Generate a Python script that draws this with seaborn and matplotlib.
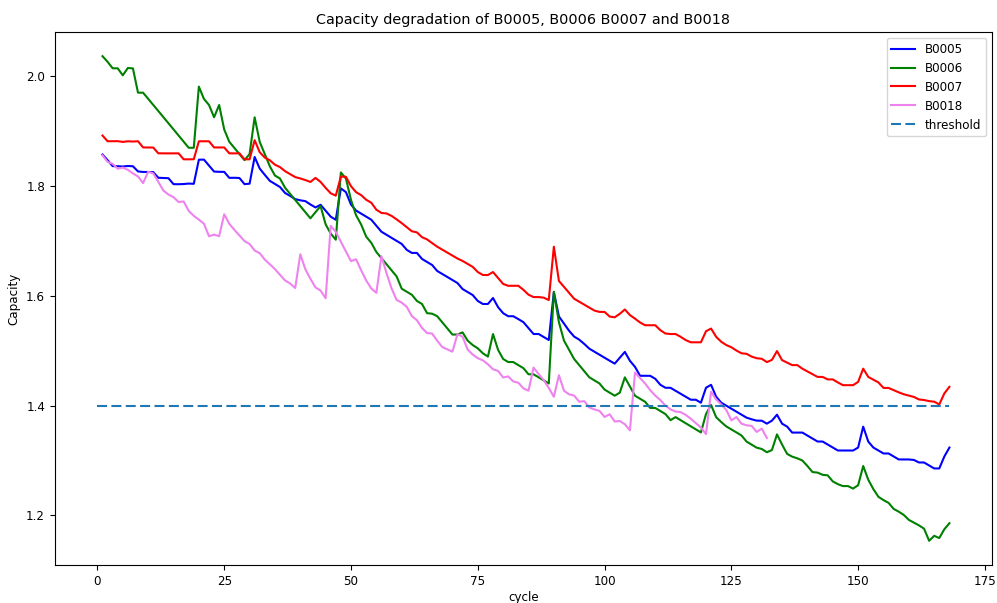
import matplotlib
matplotlib.use("Agg")
import matplotlib.pyplot as plt
import seaborn as sns
import numpy as np
import pandas as pd

# capacity per cycle
b0005 = [
    1.856487, 1.846327, 1.835349, 1.835263, 1.834646, 1.835662, 1.835146, 1.825757, 1.824774, 1.824613,
    1.824620, 1.814202, 1.813752, 1.813440, 1.802598, 1.802460, 1.802823, 1.803658, 1.803253, 1.847077,
    1.847275, 1.836272, 1.825510, 1.825044, 1.824966, 1.814041, 1.814218, 1.813795, 1.802628, 1.803441,
    1.852003, 1.830984, 1.819553, 1.808576, 1.802904, 1.797385, 1.786518, 1.781221, 1.775369, 1.773195,
    1.771733, 1.765653, 1.760229, 1.765127, 1.754272, 1.743392, 1.737828, 1.794948, 1.788065, 1.765486,
    1.754591, 1.749005, 1.743385, 1.737930, 1.726986, 1.716078, 1.710496, 1.704920, 1.699465, 1.693873,
    1.683072, 1.677521, 1.677512, 1.666628, 1.661040, 1.655547, 1.644690, 1.639288, 1.633781, 1.628267,
    1.622697, 1.611871, 1.606297, 1.600889, 1.590152, 1.584662, 1.584693, 1.595568, 1.578897, 1.567945,
    1.562382, 1.562408, 1.557152, 1.551585, 1.540658, 1.530012, 1.530075, 1.524599, 1.519160, 1.606097,
    1.562000, 1.549000, 1.536000, 1.525369, 1.519792, 1.512000, 1.503356, 1.497864, 1.492485, 1.486880,
    1.481489, 1.476186, 1.486841, 1.497541, 1.481329, 1.470339, 1.454069, 1.454049, 1.454040, 1.448567,
    1.437750, 1.432295, 1.432226, 1.426758, 1.421366, 1.415935, 1.410558, 1.410485, 1.405073, 1.432289,
    1.437666, 1.416065, 1.405149, 1.399715, 1.394267, 1.388894, 1.383396, 1.377931, 1.375000, 1.372520,
    1.372408, 1.367010, 1.372445, 1.383289, 1.367042, 1.361632, 1.350754, 1.350796, 1.350804, 1.345374,
    1.339935, 1.334529, 1.334485, 1.329067, 1.323645, 1.318221, 1.318173, 1.318170, 1.318150, 1.323576,
    1.361548, 1.334405, 1.323581, 1.318223, 1.312784, 1.312814, 1.307353, 1.301945, 1.301957, 1.301891,
    1.301000, 1.296424, 1.296381, 1.291003, 1.285550, 1.285550, 1.307340, 1.323503,
]

b0006 = [
    2.035338, 2.025140, 2.013326, 2.013285, 2.000528, 2.013899, 2.013101, 1.968970, 1.968964, 1.957927,
    1.946808, 1.935714, 1.924549, 1.913359, 1.902208, 1.891071, 1.879932, 1.868772, 1.868750, 1.980042,
    1.957675, 1.946590, 1.924265, 1.946568, 1.901979, 1.879650, 1.868455, 1.857399, 1.846231, 1.857301,
    1.924186, 1.879511, 1.857227, 1.835011, 1.818314, 1.812726, 1.796065, 1.784907, 1.773848, 1.762716,
    1.751611, 1.740481, 1.751643, 1.762735, 1.729407, 1.712699, 1.701549, 1.823916, 1.812754, 1.773850,
    1.745943, 1.729277, 1.707020, 1.695892, 1.679202, 1.668078, 1.656961, 1.645832, 1.634736, 1.612469,
    1.606895, 1.601364, 1.590192, 1.584683, 1.567968, 1.567000, 1.562445, 1.551329, 1.540182, 1.529073,
    1.529110, 1.533000, 1.518000, 1.510000, 1.504000, 1.495000, 1.489000, 1.530000, 1.501280, 1.484634,
    1.479101, 1.479059, 1.473490, 1.467919, 1.456773, 1.456826, 1.451269, 1.445678, 1.440095, 1.606915,
    1.551300, 1.518028, 1.501269, 1.484594, 1.473462, 1.462355, 1.451290, 1.445680, 1.440064, 1.429006,
    1.423429, 1.417867, 1.423403, 1.451240, 1.434543, 1.417856, 1.412305, 1.406737, 1.395626, 1.395606,
    1.390021, 1.384471, 1.373384, 1.378898, 1.373320, 1.367771, 1.362193, 1.356652, 1.351064, 1.384433,
    1.401098, 1.378877, 1.370000, 1.362000, 1.356637, 1.351100, 1.345522, 1.334421, 1.328834, 1.323301,
    1.321000, 1.315000, 1.319000, 1.347500, 1.329000, 1.312000, 1.307000, 1.304000, 1.300000, 1.290000,
    1.279000, 1.278000, 1.274000, 1.273000, 1.262000, 1.257000, 1.253500, 1.253500, 1.249000, 1.255000,
    1.290000, 1.265000, 1.248000, 1.234000, 1.228000, 1.223000, 1.212000, 1.207000, 1.201000, 1.192000,
    1.187000, 1.182000, 1.176000, 1.154000, 1.163000, 1.159000, 1.175000, 1.186000,
]

b0007 = [
    1.891052, 1.880637, 1.880663, 1.880771, 1.879451, 1.880624, 1.880101, 1.880676, 1.869371, 1.869319,
    1.869213, 1.858716, 1.858605, 1.858560, 1.858636, 1.858630, 1.847792, 1.847754, 1.847950, 1.880575,
    1.880595, 1.880602, 1.869362, 1.869432, 1.869319, 1.858657, 1.858558, 1.858673, 1.847804, 1.847752,
    1.882560, 1.860657, 1.851000, 1.846000, 1.838014, 1.833583, 1.826220, 1.820822, 1.815411, 1.813000,
    1.810000, 1.806623, 1.814000, 1.806670, 1.795782, 1.786039, 1.781651, 1.816408, 1.816054, 1.798837,
    1.788047, 1.782645, 1.774231, 1.768846, 1.756109, 1.750279, 1.749300, 1.744882, 1.738541, 1.731734,
    1.724311, 1.716898, 1.714893, 1.706176, 1.702133, 1.695361, 1.688887, 1.683500, 1.678117, 1.672724,
    1.667330, 1.662954, 1.657574, 1.652138, 1.642774, 1.637386, 1.637360, 1.642773, 1.631940, 1.621146,
    1.617755, 1.617722, 1.617777, 1.610376, 1.601592, 1.597224, 1.597205, 1.596168, 1.591845, 1.688867,
    1.626564, 1.615794, 1.604981, 1.594212, 1.588782, 1.583415, 1.578013, 1.572661, 1.570247, 1.570245,
    1.561854, 1.560475, 1.566848, 1.574654, 1.564500, 1.558000, 1.551000, 1.546000, 1.546000, 1.546000,
    1.537000, 1.531000, 1.530000, 1.530000, 1.525000, 1.519000, 1.515000, 1.515000, 1.515000, 1.535000,
    1.540000, 1.525000, 1.516000, 1.510000, 1.506000, 1.500000, 1.495000, 1.494000, 1.489000, 1.486000,
    1.485000, 1.479000, 1.483000, 1.499000, 1.482500, 1.478000, 1.473500, 1.473500, 1.467000, 1.462000,
    1.457000, 1.452000, 1.452000, 1.447500, 1.447500, 1.442000, 1.437000, 1.437000, 1.437000, 1.443000,
    1.467000, 1.452000, 1.447000, 1.442000, 1.432000, 1.432000, 1.428000, 1.424000, 1.420500, 1.418000,
    1.415600, 1.411000, 1.410000, 1.408000, 1.407000, 1.402000, 1.422000, 1.434000,
]

b0018 = [
    1.855005, 1.843196, 1.839602, 1.830674, 1.832700, 1.828729, 1.822087, 1.816633, 1.804510, 1.825146,
    1.822249, 1.806939, 1.791006, 1.783708, 1.778928, 1.770112, 1.771148, 1.753910, 1.744933, 1.738048,
    1.730793, 1.707814, 1.710855, 1.708060, 1.747829, 1.730573, 1.719548, 1.709437, 1.699063, 1.693780,
    1.681932, 1.677038, 1.665451, 1.656899, 1.648044, 1.637840, 1.627451, 1.621889, 1.613716, 1.675013,
    1.647840, 1.630510, 1.614827, 1.609106, 1.595046, 1.726680, 1.715843, 1.697860, 1.680088, 1.662573,
    1.666018, 1.645981, 1.627393, 1.612929, 1.604991, 1.671560, 1.640924, 1.612897, 1.591979, 1.587206,
    1.579418, 1.562616, 1.555122, 1.541017, 1.531817, 1.530890, 1.517879, 1.506296, 1.502166, 1.497955,
    1.529848, 1.525160, 1.501908, 1.492556, 1.486085, 1.482168, 1.475034, 1.465880, 1.463005, 1.451004,
    1.452891, 1.443741, 1.441474, 1.431090, 1.426964, 1.469008, 1.457127, 1.446217, 1.432040, 1.415921,
    1.455151, 1.426880, 1.420340, 1.418017, 1.406958, 1.407883, 1.396424, 1.392890, 1.390254, 1.379213,
    1.384026, 1.370920, 1.371808, 1.366017, 1.354836, 1.460000, 1.450000, 1.440000, 1.428000, 1.418000,
    1.410000, 1.400000, 1.393000, 1.389000, 1.388000, 1.383000, 1.376000, 1.368000, 1.360000, 1.348000,
    1.425000, 1.411000, 1.402000, 1.392000, 1.373000, 1.379000, 1.367000, 1.364000, 1.363000, 1.352000,
    1.358000, 1.341000,
]

threshold = 1.4
threshold_x = [0, len(b0005)]

plt.rcParams["font.size"] = 8.6

fig, ax = plt.subplots(figsize=(9.97, 6.03), dpi=100)
fig.subplots_adjust(left=0.055, right=0.995, top=0.947, bottom=0.063)

for name, vals, col in [("B0005", b0005, "b"), ("B0006", b0006, "g"),
                        ("B0007", b0007, "r"), ("B0018", b0018, "violet")]:
    cycles = np.arange(1, len(vals) + 1)
    sns.lineplot(x=cycles, y=vals, color=col, label=name, ax=ax)

sns.lineplot(x=threshold_x, y=[threshold, threshold], linestyle=(0, (4.8, 2.1)),
             color="#1f77b4", label="threshold", ax=ax)

ax.set_xlabel("cycle", labelpad=2.5)
ax.set_ylabel("Capacity")
ax.set_title("Capacity degradation of B0005, B0006 B0007 and B0018")
ax.legend(loc="upper right")

plt.savefig("out.png", dpi=100)
